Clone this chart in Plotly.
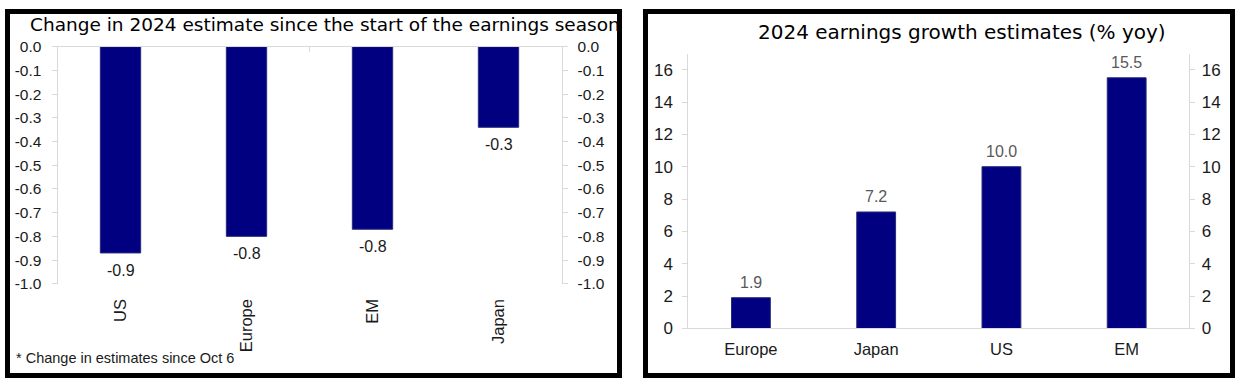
import plotly.graph_objects as go

# ---- data ----
left_cats = ["US", "Europe", "EM", "Japan"]
left_vals = [-0.87, -0.80, -0.77, -0.34]
left_tickvals = [0.0, -0.1, -0.2, -0.3, -0.4, -0.5, -0.6, -0.7, -0.8, -0.9, -1.0]
left_ticktext = ["0.0", "-0.1", "-0.2", "-0.3", "-0.4", "-0.5", "-0.6", "-0.7", "-0.8", "-0.9", "-1.0"]
left_labels = ["-0.9", "-0.8", "-0.8", "-0.3"]
right_cats = ["Europe", "Japan", "US", "EM"]
right_vals = [1.9, 7.2, 10.0, 15.5]
right_tickvals = [0, 2, 4, 6, 8, 10, 12, 14, 16]
left_title = "Change in 2024 estimate since the start of the earnings season"
right_title = "2024 earnings growth estimates (% yoy)"
footnote = "* Change in estimates since Oct 6"

W, H = 1243, 388
FONT = "Liberation Sans, Arial, sans-serif"
TFONT = "DejaVu Sans, sans-serif"
NAVY = "#000080"
AX = "#d9d9d9"
TXT = "#1a1a1a"


def px(x):
    return x / W


def py(t):
    # target picture row -> paper coordinate (figure appears in rows 8..380)
    return 1 - (t - 8) / 372.0


def pyf(f):
    # figure pixel row -> paper coordinate
    return 1 - f / H


fig = go.Figure()

fig.add_trace(go.Bar(x=left_cats, y=left_vals, xaxis="x", yaxis="y",
                     marker=dict(color=NAVY, line=dict(color="#2a2a7a", width=1)),
                     width=0.32, hoverinfo="skip"))
fig.add_trace(go.Scatter(x=left_cats, y=left_vals, xaxis="x", yaxis="y2",
                         mode="none", hoverinfo="skip", showlegend=False))
fig.add_trace(go.Scatter(x=left_cats, y=left_vals, xaxis="x3", yaxis="y",
                         mode="none", hoverinfo="skip", showlegend=False))

fig.add_trace(go.Bar(x=right_cats, y=right_vals, xaxis="x2", yaxis="y3",
                     marker=dict(color=NAVY, line=dict(color="#2a2a7a", width=1)),
                     width=0.31, hoverinfo="skip"))
fig.add_trace(go.Scatter(x=right_cats, y=right_vals, xaxis="x2", yaxis="y4",
                         mode="none", hoverinfo="skip", showlegend=False))

ltick = dict(family=FONT, size=15.5, color=TXT)
rtick = dict(family=FONT, size=17, color=TXT)
catfont = dict(family=FONT, size=16.5, color=TXT)

ld = [px(57.5), px(561.5)]
ly = [py(285), py(46)]
UNIT = 16.3
rd = [px(688.3), px(1189.3)]
ry = [py(330), py(330 - 17 * UNIT)]

yleft_common = dict(range=[-1, 0], tickvals=left_tickvals, ticktext=left_ticktext,
                    showline=True, linecolor=AX, linewidth=1, ticks="outside",
                    ticklen=5, tickcolor=AX, showgrid=False, zeroline=False,
                    tickfont=ltick, fixedrange=True)
yright_common = dict(range=[0, 17], tickvals=right_tickvals,
                     showline=True, linecolor=AX, linewidth=1, ticks="outside",
                     ticklen=5, tickcolor=AX, showgrid=False, zeroline=False,
                     tickfont=rtick, fixedrange=True)

fig.update_layout(
    width=W, height=H,
    margin=dict(l=0, r=0, t=0, b=0),
    paper_bgcolor="white", plot_bgcolor="white",
    showlegend=False,
    font=dict(family=FONT, color=TXT),
    xaxis=dict(domain=ld, anchor="y", type="category", tickangle=-90,
               showline=False, ticks="", showgrid=False, tickfont=catfont,
               ticklabelstandoff=11, fixedrange=True),
    xaxis3=dict(overlaying="x", anchor="y", side="top", type="category",
                showticklabels=False, showline=True, linecolor=AX,
                ticks="inside", ticklen=5, tickcolor=AX, tickson="boundaries",
                showgrid=False, fixedrange=True),
    yaxis=dict(domain=ly, anchor="x", ticklabelstandoff=7, **yleft_common),
    yaxis2=dict(overlaying="y", anchor="x", side="right",
                ticklabelstandoff=7, **yleft_common),
    xaxis2=dict(domain=rd, anchor="y3", type="category", showline=True,
                linecolor=AX, ticks="", showgrid=False, tickfont=catfont,
                ticklabelstandoff=6, fixedrange=True),
    yaxis3=dict(domain=ry, anchor="x2", ticklabelstandoff=6, **yright_common),
    yaxis4=dict(overlaying="y3", anchor="x2", side="right",
                ticklabelstandoff=3, **yright_common),
)

for c, v, t in zip(left_cats, left_vals, left_labels):
    fig.add_annotation(x=c, y=v, xref="x", yref="y", text=t,
                       showarrow=False, yanchor="top", yshift=-7,
                       font=dict(family=FONT, size=16, color=TXT))
for c, v in zip(right_cats, right_vals):
    fig.add_annotation(x=c, y=v, xref="x2", yref="y3", text=f"{v:.1f}",
                       showarrow=False, yanchor="bottom", yshift=5,
                       font=dict(family=FONT, size=16, color="#595959"))

fig.add_annotation(x=px(28), y=py(23.5), xref="paper", yref="paper",
                   text=left_title, showarrow=False, xanchor="left",
                   yanchor="middle", font=dict(family=TFONT, size=18.5, color="black"))
fig.add_annotation(x=px(961.5), y=py(31), xref="paper", yref="paper",
                   text=right_title, showarrow=False, xanchor="center",
                   yanchor="middle", font=dict(family=TFONT, size=20, color="black"))
fig.add_annotation(x=px(14), y=py(360), xref="paper", yref="paper",
                   text=footnote, showarrow=False, xanchor="left",
                   yanchor="middle", font=dict(family=FONT, size=14.5, color=TXT))

for x0, x1 in [(7.5, 619.5), (645.5, 1232.5)]:
    fig.add_shape(type="rect", xref="paper", yref="paper",
                  x0=px(x0), x1=px(x1), y0=pyf(385.5), y1=pyf(2.5),
                  line=dict(color="black", width=5), fillcolor="rgba(0,0,0,0)",
                  layer="above")

post = (
    "document.documentElement.style.margin='0';"
    "document.body.style.margin='0';"
    "document.body.style.overflow='hidden';"
    "var d=document.getElementById('{plot_id}');"
    "d.style.position='absolute';d.style.left='0px';d.style.top='0px';"
)
fig.write_html("out.html", config={"displayModeBar": False}, post_script=post)
